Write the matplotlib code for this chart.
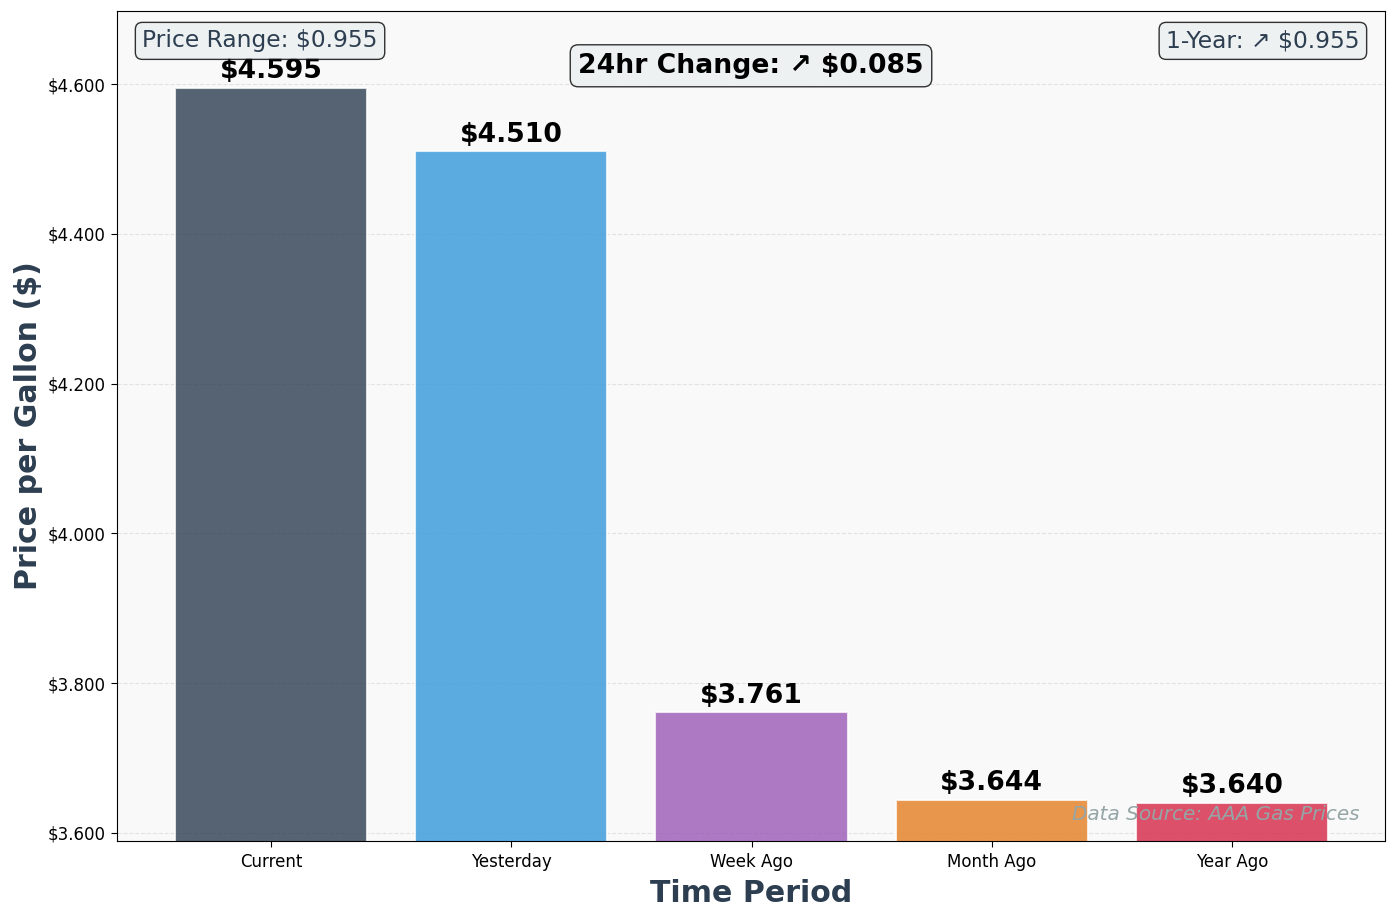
import matplotlib
matplotlib.use("Agg")
import matplotlib.pyplot as plt
from matplotlib.ticker import FuncFormatter

periods = ["Current", "Yesterday", "Week Ago", "Month Ago", "Year Ago"]
prices = [4.595, 4.510, 3.761, 3.644, 3.640]
colors = ["#2c3e50", "#3498db", "#9b59b6", "#e67e22", "#d72645"]
yticks = [3.6, 3.8, 4.0, 4.2, 4.4, 4.6]

fig = plt.figure(figsize=(13.97, 9.18), dpi=100)
ax = fig.add_axes([117/1397, 1-841/918, (1385-117)/1397, (841-11)/918])
ax.set_facecolor("#f9f9f9")

x = list(range(len(periods)))
bars = ax.bar(x, prices, width=0.8, color=colors, alpha=0.8, edgecolor="white", linewidth=1.5, zorder=2)
ax.set_ylim(3.5893, 4.6975)
ax.set_xlim(-0.642, 4.6375)
ax.set_xticks(x)
ax.set_xticklabels(periods, fontsize=12)
ax.set_yticks(yticks)
ax.yaxis.set_major_formatter(FuncFormatter(lambda v, p: f"${v:.3f}"))
ax.tick_params(axis="y", labelsize=12)
ax.tick_params(axis="both", length=4.2, pad=4.2)
ax.grid(axis="y", linestyle="--", alpha=0.3, zorder=0)
ax.set_axisbelow(True)

for xi, p in zip(x, prices):
    ax.text(xi, p + 0.005, f"${p:.3f}", ha="center", va="bottom", fontsize=19.2, fontweight="bold")

ax.set_xlabel("Time Period", fontsize=21.6, fontweight="bold", color="#2c3e50", labelpad=6)
ax.set_ylabel("Price per Gallon ($)", fontsize=21.6, fontweight="bold", color="#2c3e50", labelpad=3)

box = dict(boxstyle="round,pad=0.3", facecolor="#ecf0f1", edgecolor="black", alpha=0.8)
rng = max(prices) - min(prices)
change = prices[0] - prices[1]
yr = prices[0] - prices[4]
ax.text(0.5, 0.934, f"24hr Change: ↗ ${change:.3f}", transform=ax.transAxes, ha="center", va="center",
        fontsize=19.2, fontweight="bold", bbox=box)
ax.text(0.02, 0.964, f"Price Range: ${rng:.3f}", transform=ax.transAxes, ha="left", va="center",
        fontsize=16.8, color="#2c3e50", bbox=box)
ax.text(0.98, 0.964, f"1-Year: ↗ ${yr:.3f}", transform=ax.transAxes, ha="right", va="center",
        fontsize=16.8, color="#2c3e50", bbox=box)
ax.text(0.98, 0.0325, "Data Source: AAA Gas Prices", transform=ax.transAxes, ha="right", va="center",
        fontsize=14.4, color="#95a5a6", style="italic")

fig.savefig("out.png", dpi=100)
